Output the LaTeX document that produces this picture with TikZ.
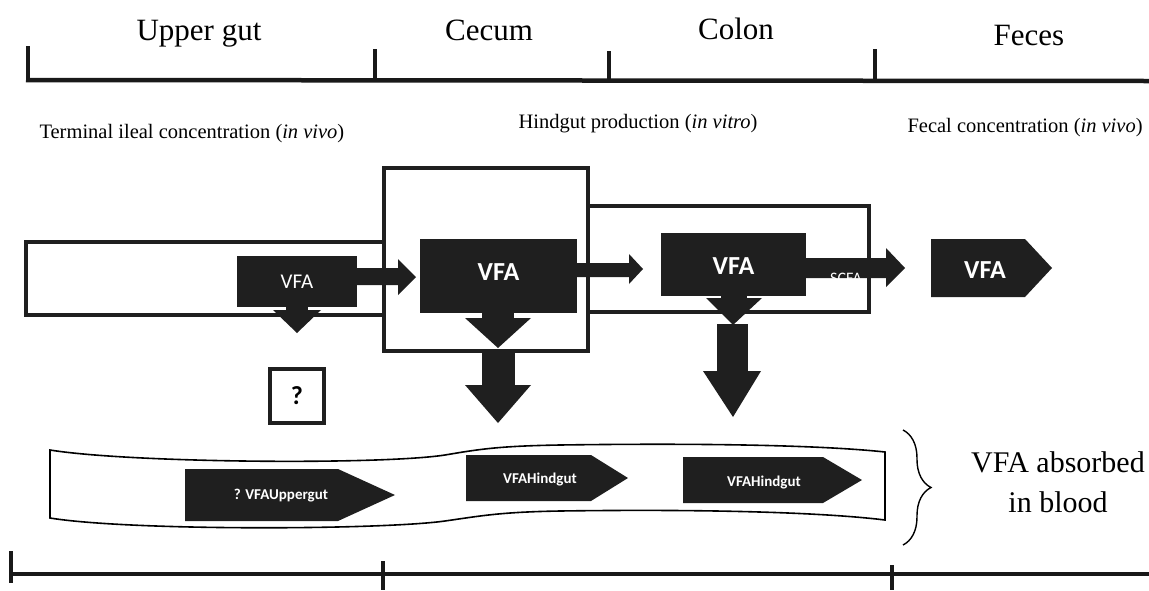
\documentclass[tikz,border=0pt]{standalone}
\usepackage{fontspec}
\setmainfont{Liberation Serif}
\newfontfamily\carl{Carlito}
\usetikzlibrary{decorations.pathreplacing}
\tikzset{
  bar/.style={line width=4.5pt, draw=black!90},
  frame/.style={line width=4.5pt, draw=black!88},
  blk/.style={fill=black!88, draw=none},
  vfabox/.style={blk, text=white, inner sep=0pt},
  vfatxt/.style={text=white, font=\carl\bfseries\fontsize{26}{30}\selectfont, inner sep=0pt},
  ttl/.style={font=\fontsize{31}{36}\selectfont, anchor=base},
  sub/.style={font=\fontsize{20.5}{24}\selectfont, anchor=base west},
  band/.style={line width=1.6pt, draw=black},
  ptxt/.style={text=white, font=\carl\bfseries\fontsize{15}{18}\selectfont, inner sep=0pt},
}
\begin{document}
\begin{tikzpicture}[x=1pt,y=-1pt]
\useasboundingbox (0,0) rectangle (1149,590);
% top scale
\coordinate (tl) at (26,80); \coordinate (tr) at (1149,81);
\draw[bar] (tl) -- (tr);
\draw[bar] (28,46) -- (28,80);
\draw[bar] (375,49) -- (375,80);
\draw[bar] (609,51) -- (609,81);
\draw[bar] (875,49) -- (875,81);
\node[ttl] (t1) at (199,40) {Upper gut};
\node[ttl] (t2) at (489,40) {Cecum};
\node[ttl] (t3) at (736,39) {Colon};
\node[ttl] (t4) at (1029,45) {Feces};
\node[sub] (s1) at (36,138) {Terminal ileal concentration (\textit{in vivo})};
\node[sub] (s2) at (515,128) {Hindgut production (\textit{in vitro})};
\node[sub] (s3) at (904,132) {Fecal concentration (\textit{in vivo})};
% compartments
\draw[frame] (384,242) -- (26,242) -- (26,315) -- (384,315);
\draw[frame] (384,168) rectangle (588,351);
\draw[frame] (588,206) -- (869,206) -- (869,312) -- (588,312);
% upper gut VFA
\node[vfabox, minimum width=120, minimum height=51, font=\carl\fontsize{21}{24}\selectfont] (ug) at (297,281.5) {VFA};
\fill[blk] (ug.east |- 0,268) -- (398,268) -- (398,259) -- (416,277) -- (398,295) -- (398,285) -- (ug.east |- 0,285) -- cycle;
\fill[blk] (286,306) rectangle (308,310);
\fill[blk] (273,310) -- (321,310) -- (297,333) -- cycle;
\node[draw=black!88, line width=4pt, minimum width=54, minimum height=54, inner sep=0pt, font=\carl\bfseries\fontsize{26}{30}\selectfont] (q) at (297,396) {?};
% cecum VFA
\node[vfabox, minimum width=157, minimum height=74] (ce) at (498.5,276) {};
\node[vfatxt] (cet) at (498.5,272) {VFA};
\fill[blk] (482,312) rectangle (514,319);
\fill[blk] (465,318) -- (531,318) -- (498,348) -- cycle;
\fill[blk] (482,349) rectangle (515,386);
\fill[blk] (465,385) -- (531,385) -- (498,423) -- cycle;
\fill[blk] (ce.east |- 0,263) -- (629,263) -- (629,254) -- (643,269) -- (629,284) -- (629,277) -- (ce.east |- 0,277) -- cycle;
% colon VFA
\node[vfabox, minimum width=145, minimum height=63] (co) at (733.5,264.5) {};
\node[vfatxt] (cot) at (733.5,266) {VFA};
\fill[blk] (721,295) rectangle (747,299);
\fill[blk] (706,298) -- (762,298) -- (733,325) -- cycle;
\fill[blk] (717,324) rectangle (748,372);
\fill[blk] (703,371) -- (761,371) -- (733,417) -- cycle;
\fill[blk] (co.east |- 0,258) -- (886,258) -- (886,248) -- (905,268) -- (886,287) -- (886,278) -- (co.east |- 0,278) -- cycle;
\node[text=white, font=\carl\fontsize{16}{18}\selectfont, anchor=base] (scfa) at (846,283) {SCFA};
% feces VFA
\fill[blk] (931,239) -- (1025,239) -- (1052,268) -- (1025,297) -- (931,297) -- cycle;
\node[vfatxt] (fe) at (985,270) {VFA};
% blood band
\draw[band] (50,450) .. controls (130,463) and (380,465) .. (445,455)
  .. controls (480,449) and (500,446) .. (560,445)
  .. controls (700,443) and (820,445) .. (885,452)
  -- (885,520)
  .. controls (820,512) and (700,509) .. (560,511)
  .. controls (500,512) and (480,516) .. (445,521)
  .. controls (380,530) and (130,531) .. (50,518) -- cycle;
\fill[blk] (185,469) -- (338,469) -- (395,495) -- (338,521) -- (185,521) -- cycle;
\node[ptxt] (p1) at (281,496) {? VFAUppergut};
\fill[blk] (466,455) -- (591,455) -- (628,478) -- (591,501) -- (466,501) -- cycle;
\node[ptxt] (p2) at (540,479) {VFAHindgut};
\fill[blk] (683,457) -- (823,457) -- (862,480) -- (823,503) -- (683,503) -- cycle;
\node[ptxt] (p3) at (764,482) {VFAHindgut};
% brace
\draw[decorate, decoration={brace, amplitude=28pt, aspect=0.5}, line width=1.4pt] (903,430) -- (903,545);
\node[ttl, font=\fontsize{30}{36}\selectfont] (b1) at (1058,472) {VFA absorbed};
\node[ttl, font=\fontsize{30}{36}\selectfont] (b2) at (1058,512) {in blood};
% bottom scale
\draw[bar] (11,574) -- (1149,574);
\draw[bar] (11,551) -- (11,583);
\draw[bar] (383,561) -- (383,590);
\draw[bar] (892,565) -- (892,590);
\end{tikzpicture}
\end{document}
